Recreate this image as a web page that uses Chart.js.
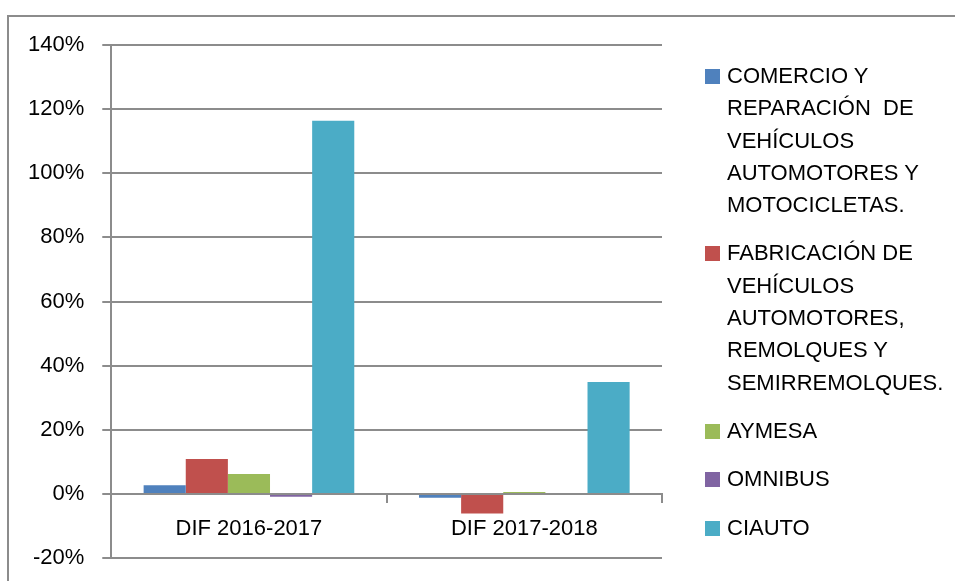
<!DOCTYPE html>
<html>
<head>
<meta charset="utf-8">
<script src="https://cdn.jsdelivr.net/npm/chart.js@4"></script>
<style>
  body { margin: 0; background: #fff; }
  #wrap { position: relative; width: 955px; height: 581px; }
  #frame { position: absolute; left: 7px; top: 15px; width: 960px; height: 580px;
           border-left: 2px solid #8c8c8c; border-top: 2px solid #8c8c8c; }
  #legend { position: absolute; left: 705px; top: 60px; font-family: "Liberation Sans", Arial, sans-serif;
            font-size: 22px; color: #000; }
  .item { position: relative; padding-left: 22px; margin-bottom: 16px; }
  .box { position: absolute; left: 0; top: 9px; width: 15px; height: 15px; }
  .txt { line-height: 32.3px; white-space: pre; }
</style>
</head>
<body>
<div id="wrap">
  <div id="frame"></div>
  <canvas id="chart" width="955" height="581"></canvas>
  <div id="legend"></div>
</div>
<script>
// Categories and series values (percent)
const categories = ['DIF 2016-2017', 'DIF 2017-2018'];
const seriesNames = [
  'COMERCIO Y\nREPARACIÓN  DE\nVEHÍCULOS\nAUTOMOTORES Y\nMOTOCICLETAS.',
  'FABRICACIÓN DE\nVEHÍCULOS\nAUTOMOTORES,\nREMOLQUES Y\nSEMIRREMOLQUES.',
  'AYMESA',
  'OMNIBUS',
  'CIAUTO'
];
const comercio = [2.7, -1.2];
const fabricacion = [10.9, -6.1];
const aymesa = [6.2, 0.6];
const omnibus = [-0.9, 0];
const ciauto = [116.4, 34.9];
const colors = ['#4f81bd', '#c0504d', '#9bbb59', '#8064a2', '#4bacc6'];
const yTicks = { min: -20, max: 140, step: 20 };

const values = [comercio, fabricacion, aymesa, omnibus, ciauto];
const font = { family: '"Liberation Sans", Arial, sans-serif', size: 22 };

const datasets = values.map((data, i) => ({
  label: seriesNames[i],
  data: data,
  backgroundColor: colors[i],
  borderWidth: 0,
  barPercentage: 1,
  categoryPercentage: 0.765
}));

const chart = new Chart(document.getElementById('chart'), {
  type: 'bar',
  data: { labels: categories, datasets: datasets },
  options: {
    responsive: false,
    animation: false,
    layout: { padding: { top: 45, right: 293, bottom: 23, left: 10 } },
    plugins: { legend: { display: false }, tooltip: { enabled: false } },
    scales: {
      x: {
        position: { y: 0 },
        afterFit: scale => { scale.height = 0; },
        grid: { drawOnChartArea: false, drawTicks: true, tickLength: 8, color: '#8c8c8c', lineWidth: 2, offset: true },
        border: { color: '#8c8c8c', width: 2 },
        ticks: { color: '#000', font: font, padding: 14 }
      },
      y: {
        min: yTicks.min,
        max: yTicks.max,
        // keep the label padding from pushing the plot bottom up
        afterFit: scale => { scale.paddingTop = 0; scale.paddingBottom = 0; },
        grid: { color: '#8c8c8c', lineWidth: 2, tickLength: 9 },
        border: { color: '#8c8c8c', width: 2 },
        ticks: {
          stepSize: yTicks.step,
          color: '#000',
          font: font,
          padding: 18,
          callback: v => v + '%'
        }
      }
    }
  }
});

// HTML legend with wrapped labels
const legend = document.getElementById('legend');
chart.data.datasets.forEach(ds => {
  const item = document.createElement('div');
  item.className = 'item';
  item.innerHTML = '<div class="box" style="background:' + ds.backgroundColor + '"></div>';
  const txt = document.createElement('div');
  txt.className = 'txt';
  txt.textContent = ds.label;
  item.appendChild(txt);
  legend.appendChild(item);
});
</script>
</body>
</html>
